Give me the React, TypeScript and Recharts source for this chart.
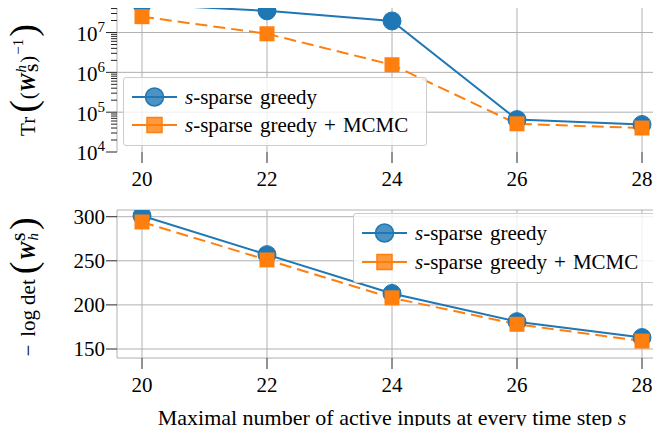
import React from 'react';
import {
  LineChart, Line, XAxis, YAxis, CartesianGrid, ReferenceLine, ReferenceArea, Legend,
} from 'recharts';

// max number of active inputs per time step
const steps = [20, 22, 24, 26, 28];
const xTicks = [20, 22, 24, 26, 28];

// Tr((W_S^h)^-1), log scale
const greedyTrace = [5.1e7, 3.5e7, 1.95e7, 6.5e4, 4.9e4];
const mcmcTrace = [2.5e7, 9.3e6, 1.55e6, 5.1e4, 4.0e4];

// -log det(W_h^S)
const greedyLogdet = [301, 257, 213, 181, 163];
const mcmcLogdet = [294, 251, 208, 178, 159];

const logMajorTicks = [1e4, 1e5, 1e6, 1e7];
const logdetTicks = [150, 200, 250, 300];

const BLUE = '#1f77b4';
const ORANGE = '#ff7f0e';
const GRID = '#b0b0b0';
const INK = '#262626';
const FONT = '"Liberation Serif", "DejaVu Serif", serif';
const FS = 21;

const topDomain: [number, number] = [1e4, 5.2e7];
const xDomain: [number, number] = [19.6, 28.4];

const logTicks: number[] = [];
for (let e = 4; e <= 7; e++) {
  for (let m = 1; m <= 9; m++) {
    const v = m * Math.pow(10, e);
    if (v <= topDomain[1]) logTicks.push(v);
  }
}

const topData = steps.map((s, i) => ({ step: s, greedy: greedyTrace[i], mcmc: mcmcTrace[i] }));
const bottomData = steps.map((s, i) => ({ step: s, greedy: greedyLogdet[i], mcmc: mcmcLogdet[i] }));

const TICK_SIZE = 10;
const TICK_MARGIN = 2;

const LogTick = (props: any) => {
  const { x, y, payload } = props;
  const v = payload.value;
  const exp = Math.round(Math.log10(v));
  const major = Math.abs(v - Math.pow(10, exp)) < 1e-6 * v;
  const ax = x + TICK_SIZE + TICK_MARGIN;
  return (
    <g>
      <line x1={ax - (major ? 11 : 6)} x2={ax} y1={y} y2={y} stroke={INK} strokeWidth={1} />
      {major && (
        <text x={x} y={y} dy="0.4em" textAnchor="end" fontSize={FS} fontFamily={FONT} fill="#000">
          10<tspan dy={-9} fontSize={15}>{exp}</tspan>
        </text>
      )}
    </g>
  );
};

const squareDot = (props: any) => {
  const { cx, cy, index } = props;
  if (cx == null || cy == null) return <g key={`sq-${index}`} />;
  return <rect key={`sq-${index}`} x={cx - 7.5} y={cy - 7.5} width={15} height={15} fill={ORANGE} />;
};

const TopYLabel = (props: any) => {
  const vb = props.viewBox || { x: 0, y: 0, width: 0, height: 0 };
  const cx = vb.x + 35;
  const cy = vb.y + vb.height / 2 + 2;
  return (
    <text x={cx} y={cy} textAnchor="middle" transform={`rotate(-90, ${cx}, ${cy})`}
      fontSize={FS} fontFamily={FONT} fill="#000">
      <tspan>Tr</tspan>
      <tspan fontSize={38} dx={4} dy={1}>(</tspan>
      <tspan dx={1} dy={-1}>(</tspan>
      <tspan fontWeight="bold" fontStyle="italic">W</tspan>
      <tspan fontSize={15} fontStyle="italic" dx={1} dy={-9}>h</tspan>
      <tspan fontSize={15} fontWeight="bold" dx={-7} dy={12}>S</tspan>
      <tspan dx={1} dy={-3}>)</tspan>
      <tspan fontSize={15} dx={1} dy={-12}>−1</tspan>
      <tspan fontSize={38} dx={2} dy={13}>)</tspan>
    </text>
  );
};

const BottomYLabel = (props: any) => {
  const vb = props.viewBox || { x: 0, y: 0, width: 0, height: 0 };
  const cx = vb.x + 35;
  const cy = vb.y + vb.height / 2 + 3;
  return (
    <text x={cx} y={cy} textAnchor="middle" transform={`rotate(-90, ${cx}, ${cy})`}
      fontSize={FS} fontFamily={FONT} fill="#000">
      <tspan>−</tspan>
      <tspan dx={8}>log</tspan>
      <tspan dx={5}>det</tspan>
      <tspan fontSize={38} dx={5} dy={1}>(</tspan>
      <tspan fontWeight="bold" fontStyle="italic" dx={1} dy={-1}>W</tspan>
      <tspan fontSize={15} fontWeight="bold" dx={1} dy={-10}>S</tspan>
      <tspan fontSize={15} fontStyle="italic" dx={-8} dy={13}>h</tspan>
      <tspan fontSize={38} dx={3} dy={-2}>)</tspan>
    </text>
  );
};

const XTitle = (props: any) => {
  const vb = props.viewBox || { x: 0, y: 0, width: 0, height: 0 };
  return (
    <text x={vb.x + vb.width / 2} y={vb.y + 67} textAnchor="middle" fontSize={22} fontFamily={FONT} fill="#000">
      Maximal number of active inputs at every time step <tspan fontStyle="italic">s</tspan>
    </text>
  );
};

const series = [
  { label: '-sparse greedy', extra: '', color: BLUE, shape: 'circle' },
  { label: '-sparse greedy', extra: 'MCMC', color: ORANGE, shape: 'square' },
];

const LegendBox = ({ rowGap }: { rowGap: number }) => (
  <div style={{
    boxSizing: 'border-box', width: 304,
    background: 'rgba(255,255,255,0.8)', border: '1px solid #cccccc', borderRadius: 3,
    padding: '5px 8px 6px 8px', fontFamily: FONT, fontSize: FS, color: '#000',
  }}>
    {series.map((s, i) => (
      <div key={i} style={{ display: 'flex', alignItems: 'center', height: 28, marginTop: i ? rowGap : 0 }}>
        <svg width={45} height={28} style={{ display: 'block' }}>
          <line x1={0} x2={45} y1={14} y2={14} stroke={s.color} strokeWidth={2} />
          {s.shape === 'circle' ? (
            <circle cx={22.5} cy={14} r={9} fill={s.color} fillOpacity={0.8} stroke={s.color} strokeWidth={1.5} />
          ) : (
            <rect x={15} y={6.5} width={15} height={15} fill={s.color} fillOpacity={0.8} stroke={s.color} strokeWidth={1.5} />
          )}
        </svg>
        <span style={{ marginLeft: 8, whiteSpace: 'nowrap', wordSpacing: 2 }}>
          <i>s</i>{s.label}
          {s.extra && (<><span style={{ margin: '0 7px' }}>+</span>{s.extra}</>)}
        </span>
      </div>
    ))}
  </div>
);

export default function App() {
  return (
    <div style={{ position: 'relative', width: 661, height: 434, margin: -8, overflow: 'hidden', background: '#fff' }}>
      <div style={{ position: 'absolute', left: 0, top: 0 }}>
        <LineChart width={680} height={192} data={topData} margin={{ top: 4, right: 13, left: 0, bottom: 0 }}>
          <CartesianGrid horizontal={false} stroke={GRID} strokeWidth={1} />
          {logMajorTicks.slice(1).map((v) => (
            <ReferenceLine key={v} y={v} stroke={GRID} strokeWidth={1} />
          ))}
          <ReferenceArea fill="none" stroke={INK} strokeWidth={1.2} fillOpacity={0} />
          <XAxis dataKey="step" type="number" domain={xDomain} ticks={xTicks} interval={0}
            height={40} axisLine={false} tickSize={11} tickMargin={8}
            tickLine={{ stroke: INK }} tick={{ fontSize: FS, fontFamily: FONT, fill: '#000' }} />
          <YAxis scale="log" type="number" domain={topDomain} allowDataOverflow ticks={logTicks} interval={0}
            width={117} axisLine={false} tickLine={false} tickSize={TICK_SIZE} tickMargin={TICK_MARGIN}
            tick={<LogTick />} label={<TopYLabel />} />
          <Line dataKey="greedy" stroke={BLUE} strokeWidth={2} isAnimationActive={false}
            dot={{ r: 9, fill: BLUE, stroke: BLUE, strokeWidth: 1 }} />
          <Line dataKey="mcmc" stroke={ORANGE} strokeWidth={2} strokeDasharray="12 6" isAnimationActive={false}
            dot={squareDot} />
          <Legend layout="horizontal" verticalAlign="middle" align="center"
            wrapperStyle={{ left: 123, top: 77, width: 'auto', height: 'auto' }}
            content={() => <LegendBox rowGap={0} />} />
        </LineChart>
      </div>
      <div style={{ position: 'absolute', left: 0, top: 200 }}>
        <LineChart width={680} height={234} data={bottomData} margin={{ top: 10, right: 13, left: 0, bottom: 0 }}>
          <CartesianGrid stroke={GRID} strokeWidth={1} />
          <ReferenceArea fill="none" stroke={INK} strokeWidth={1.2} fillOpacity={0} />
          <XAxis dataKey="step" type="number" domain={xDomain} ticks={xTicks} interval={0}
            height={76} axisLine={false} tickSize={11} tickMargin={8}
            tickLine={{ stroke: INK }} tick={{ fontSize: FS, fontFamily: FONT, fill: '#000' }}
            label={<XTitle />} />
          <YAxis type="number" domain={[139.8, 307.6]} allowDataOverflow ticks={logdetTicks} interval={0}
            width={117} axisLine={false} tickSize={11} tickMargin={1}
            tickLine={{ stroke: INK }} tick={{ fontSize: FS, fontFamily: FONT, fill: '#000' }}
            label={<BottomYLabel />} />
          <Line dataKey="greedy" stroke={BLUE} strokeWidth={2} isAnimationActive={false}
            dot={{ r: 9, fill: BLUE, stroke: BLUE, strokeWidth: 1 }} />
          <Line dataKey="mcmc" stroke={ORANGE} strokeWidth={2} strokeDasharray="12 6" isAnimationActive={false}
            dot={squareDot} />
          <Legend layout="horizontal" verticalAlign="middle" align="center"
            wrapperStyle={{ left: 353, top: 13, width: 'auto', height: 'auto' }}
            content={() => <LegendBox rowGap={1} />} />
        </LineChart>
      </div>
    </div>
  );
}
